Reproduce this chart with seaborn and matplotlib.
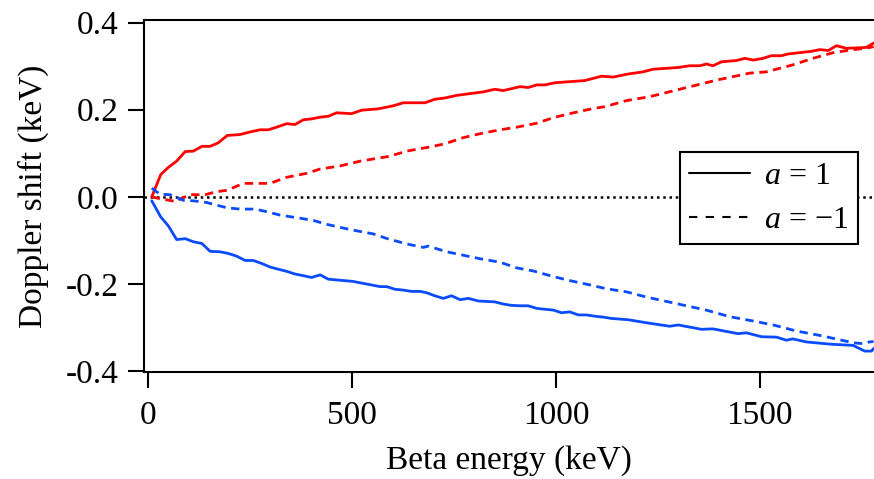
import matplotlib
matplotlib.use("Agg")
import matplotlib.pyplot as plt
from matplotlib.lines import Line2D
import seaborn as sns
import pandas as pd

# Values (x in keV, y in keV)
red_solid_x = [9, 31, 50, 70, 91, 111, 132, 152, 172, 194, 225, 250, 275, 295, 315, 340, 360,
               381, 401, 422, 442, 462, 499, 524, 564, 601, 626, 679, 703, 728, 757, 789, 822,
               850, 871, 912, 932, 953, 973, 998, 1071, 1112, 1140, 1177, 1214, 1238, 1300,
               1328, 1353, 1369, 1385, 1406, 1443, 1463, 1484, 1508, 1528, 1553, 1569, 1626,
               1647, 1668, 1688, 1712, 1761, 1779]
red_solid_y = [0.000, 0.051, 0.068, 0.082, 0.104, 0.105, 0.116, 0.116, 0.124, 0.141, 0.143,
               0.149, 0.154, 0.154, 0.160, 0.168, 0.166, 0.177, 0.179, 0.183, 0.185, 0.193,
               0.191, 0.199, 0.202, 0.209, 0.216, 0.216, 0.224, 0.227, 0.233, 0.237, 0.241,
               0.247, 0.244, 0.253, 0.251, 0.257, 0.257, 0.262, 0.267, 0.277, 0.275, 0.282,
               0.287, 0.293, 0.297, 0.301, 0.301, 0.305, 0.301, 0.310, 0.313, 0.318, 0.314,
               0.318, 0.324, 0.324, 0.328, 0.334, 0.338, 0.336, 0.347, 0.341, 0.343, 0.353]

red_dash_x = [9, 29, 70, 78, 103, 140, 168, 193, 234, 299, 340, 389, 422, 471, 520, 591, 634,
              699, 728, 773, 814, 863, 904, 953, 994, 1043, 1092, 1120, 1173, 1230, 1312, 1394,
              1475, 1516, 1581, 1630, 1680, 1729, 1761, 1779]
red_dash_y = [0.000, -0.004, -0.011, -0.005, 0.005, 0.005, 0.012, 0.015, 0.031, 0.031, 0.045,
              0.054, 0.064, 0.071, 0.082, 0.093, 0.105, 0.116, 0.122, 0.136, 0.145, 0.154,
              0.160, 0.169, 0.182, 0.193, 0.203, 0.207, 0.221, 0.230, 0.249, 0.268, 0.284,
              0.287, 0.303, 0.318, 0.331, 0.338, 0.341, 0.345]

blue_solid_x = [9, 31, 50, 70, 91, 111, 132, 152, 176, 197, 217, 238, 258, 279, 299, 319, 340,
                360, 381, 401, 422, 442, 502, 569, 585, 605, 626, 646, 667, 683, 703, 724, 744,
                765, 785, 810, 830, 850, 871, 891, 912, 932, 953, 994, 1014, 1034, 1055, 1075,
                1096, 1116, 1136, 1177, 1222, 1279, 1300, 1357, 1385, 1447, 1467, 1504, 1541,
                1565, 1581, 1614, 1672, 1729, 1757, 1774, 1779]
blue_solid_y = [-0.009, -0.046, -0.067, -0.098, -0.096, -0.103, -0.107, -0.125, -0.126, -0.130,
                -0.136, -0.146, -0.146, -0.153, -0.161, -0.166, -0.171, -0.177, -0.181, -0.185,
                -0.179, -0.189, -0.194, -0.206, -0.206, -0.212, -0.214, -0.217, -0.217, -0.220,
                -0.227, -0.233, -0.227, -0.236, -0.233, -0.239, -0.240, -0.241, -0.246, -0.249,
                -0.250, -0.250, -0.256, -0.260, -0.266, -0.264, -0.271, -0.271, -0.274, -0.276,
                -0.279, -0.282, -0.289, -0.297, -0.294, -0.304, -0.303, -0.314, -0.312, -0.321,
                -0.322, -0.329, -0.326, -0.333, -0.338, -0.341, -0.354, -0.354, -0.348]

blue_dash_x = [9, 29, 54, 87, 111, 144, 193, 225, 262, 291, 324, 373, 405, 438, 495, 552, 587,
               634, 675, 687, 732, 773, 814, 863, 904, 944, 994, 1038, 1083, 1124, 1173, 1222,
               1271, 1320, 1369, 1426, 1484, 1533, 1590, 1647, 1696, 1729, 1753, 1769, 1779]
blue_dash_y = [0.020, 0.006, 0.005, -0.008, -0.009, -0.013, -0.025, -0.028, -0.028, -0.034,
               -0.042, -0.049, -0.054, -0.063, -0.075, -0.085, -0.096, -0.108, -0.116, -0.113,
               -0.126, -0.134, -0.142, -0.150, -0.163, -0.170, -0.183, -0.193, -0.202, -0.211,
               -0.218, -0.230, -0.240, -0.250, -0.260, -0.275, -0.285, -0.294, -0.308, -0.318,
               -0.328, -0.335, -0.337, -0.333, -0.332]

RED = "#ff0000"
BLUE = "#0a4bff"

sns.set_theme(style="ticks")
plt.rcParams["font.family"] = ["Liberation Serif", "DejaVu Serif"]
plt.rcParams["mathtext.fontset"] = "custom"
plt.rcParams["mathtext.it"] = "Liberation Serif:italic"
plt.rcParams["mathtext.rm"] = "Liberation Serif"
plt.rcParams["axes.unicode_minus"] = False
plt.rcParams["text.color"] = "black"
plt.rcParams["axes.labelcolor"] = "black"

fig = plt.figure(figsize=(8.74, 4.79), dpi=100)
ax = fig.add_axes([144 / 874, 1 - 372 / 479, 730 / 874, 352 / 479])

ax.axhline(0, color="black", linestyle=(0, (1, 1.5)), linewidth=1.8, zorder=1)

series = [
    (red_solid_x, red_solid_y, RED, "-"),
    (red_dash_x, red_dash_y, RED, (0, (3, 2))),
    (blue_solid_x, blue_solid_y, BLUE, "-"),
    (blue_dash_x, blue_dash_y, BLUE, (0, (3, 2))),
]
for xs, ys, col, ls in series:
    df = pd.DataFrame({"E": xs, "shift": ys})
    sns.lineplot(data=df, x="E", y="shift", ax=ax, color=col, linewidth=2.0,
                 sort=False, estimator=None, zorder=3)
    ax.lines[-1].set_linestyle(ls)

ax.set_xlim(-10, 1780)
ax.set_ylim(-0.402, 0.406)
ax.set_xticks([0, 500, 1000, 1500])
ax.set_yticks([-0.4, -0.2, 0.0, 0.2, 0.4])
ax.set_yticklabels(["-0.4", "-0.2", "0.0", "0.2", "0.4"])

for side in ["left", "bottom", "top"]:
    ax.spines[side].set_linewidth(1.5)
    ax.spines[side].set_color("black")
ax.spines["right"].set_visible(False)

ax.tick_params(axis="both", direction="out", length=11.5, width=1.5, colors="black",
               labelsize=24)
ax.tick_params(axis="x", pad=9)
ax.tick_params(axis="y", pad=7)

ax.set_xlabel("Beta energy (keV)", fontsize=24, labelpad=10)
ax.set_ylabel("Doppler shift (keV)", fontsize=24, labelpad=12)

handles = [
    Line2D([], [], color="black", linewidth=1.5, linestyle="-"),
    Line2D([], [], color="black", linewidth=1.5, linestyle=(0, (4, 4))),
]
leg = ax.legend(handles, [r"$a$ = 1", r"$a$ = −1"], loc="upper left",
                bbox_to_anchor=(0.734, 0.625), fontsize=23, frameon=True,
                fancybox=False, framealpha=1, edgecolor="black",
                handlelength=1.9, handletextpad=0.45, borderpad=0.3,
                labelspacing=0.45, borderaxespad=0)
leg.get_frame().set_linewidth(1.5)

fig.savefig("out.png", dpi=100)
